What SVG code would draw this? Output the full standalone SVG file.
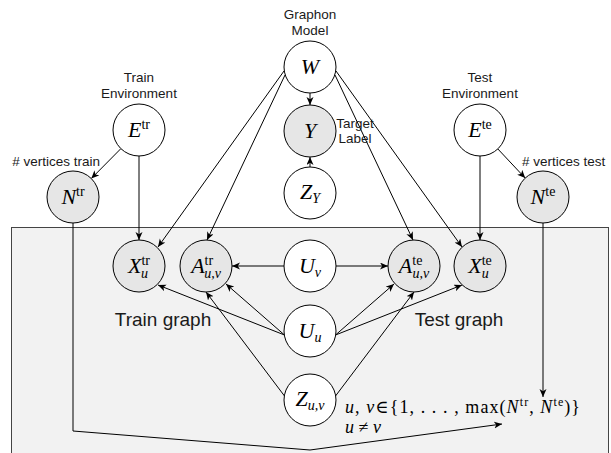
<svg xmlns="http://www.w3.org/2000/svg" width="611" height="453" viewBox="0 0 611 453">
<defs>
<marker id="a" markerWidth="9" markerHeight="8" refX="8" refY="3.5" orient="auto" markerUnits="userSpaceOnUse">
<path d="M0,0 L8,3.5 L0,7 L2.2,3.5 z" fill="#000"/>
</marker>
<style>
.n{stroke:#000;stroke-width:1;fill:#fff}
.g{fill:#e6e6e6}
.lbl{font-family:"Liberation Sans",Arial,sans-serif;font-size:13.5px;fill:#1a1a1a}
.big{font-family:"Liberation Sans",Arial,sans-serif;font-size:19px;fill:#1a1a1a}
.m{font-family:"Liberation Serif","DejaVu Serif",serif;font-size:22px;font-style:italic;fill:#000}
.r{font-style:normal;font-size:14px}
.s{font-size:14px}
.mt{font-family:"Liberation Serif","DejaVu Serif",serif;font-size:18px;fill:#000}
.i{font-style:italic}
.sp{font-size:12px}
.e{stroke:#000;stroke-width:1;fill:none;marker-end:url(#a)}
</style>
</defs>
<rect x="11.5" y="227.5" width="597" height="240" fill="#f2f2f2" stroke="#444" stroke-width="1"/>
<g id="connectors">
<path class="e" d="M310,93 L310,105"/>
<path class="e" d="M310,167 L310,157"/>
<path class="e" d="M284,71 L158,247"/>
<path class="e" d="M285,75 L207,240"/>
<path class="e" d="M335,75 L413,240"/>
<path class="e" d="M336,71 L462,247"/>
<path class="e" d="M121,148.5 L91.3,178.5"/>
<path class="e" d="M497.8,148.9 L525.2,178.1"/>
<path class="e" d="M139,156 L139,240"/>
<path class="e" d="M480,156 L480,240"/>
<path class="e" d="M284,266 L232,266"/>
<path class="e" d="M336,266 L388,266"/>
<path class="e" d="M284.5,335 L158,285"/>
<path class="e" d="M284.5,335 L226,284"/>
<path class="e" d="M335.5,335 L394,284"/>
<path class="e" d="M335.5,335 L462,285"/>
<path class="e" d="M284.5,396 L206,292"/>
<path class="e" d="M335.5,396 L414,292"/>
<path class="e" d="M73,223 L73,431 L310,450 L502,424"/>
<path class="e" d="M543,223 L543,397"/>
</g>
<g id="W">
<text class="lbl" x="310" y="19" text-anchor="middle">Graphon</text>
<text class="lbl" x="310" y="35" text-anchor="middle">Model</text>
<circle class="n" cx="310" cy="67" r="26"/>
<text class="m" x="310" y="74" text-anchor="middle">W</text>
</g>
<g id="Y">
<circle class="n g" cx="310" cy="131" r="26"/>
<text class="m" x="310" y="138" text-anchor="middle">Y</text>
<text class="lbl" x="355" y="128" text-anchor="middle">Target</text>
<text class="lbl" x="355" y="143" text-anchor="middle">Label</text>
</g>
<g id="ZY">
<circle class="n" cx="310" cy="193" r="26"/>
<text class="m" x="310" y="199" text-anchor="middle">Z<tspan class="s" dy="4">Y</tspan></text>
</g>
<g id="Etr">
<text class="lbl" x="139" y="82" text-anchor="middle">Train</text>
<text class="lbl" x="139" y="98" text-anchor="middle">Environment</text>
<circle class="n" cx="139" cy="130" r="26"/>
<text class="m" x="139" y="137" text-anchor="middle">E<tspan class="r" dy="-8">tr</tspan></text>
</g>
<g id="Ete">
<text class="lbl" x="480" y="82" text-anchor="middle">Test</text>
<text class="lbl" x="480" y="98" text-anchor="middle">Environment</text>
<circle class="n" cx="480" cy="130" r="26"/>
<text class="m" x="480" y="137" text-anchor="middle">E<tspan class="r" dy="-8">te</tspan></text>
</g>
<g id="Ntr">
<text class="lbl" x="100" y="166" text-anchor="end"># vertices train</text>
<circle class="n g" cx="73" cy="197" r="26"/>
<text class="m" x="73" y="204" text-anchor="middle">N<tspan class="r" dy="-8">tr</tspan></text>
</g>
<g id="Nte">
<text class="lbl" x="522" y="166"># vertices test</text>
<circle class="n g" cx="543" cy="197" r="26"/>
<text class="m" x="543" y="204" text-anchor="middle">N<tspan class="r" dy="-8">te</tspan></text>
</g>
<g id="Xtr">
<circle class="n g" cx="139" cy="266" r="26"/>
<text class="m" x="139" y="273" text-anchor="middle">X<tspan class="r" dy="-8">tr</tspan><tspan class="s" dx="-9" dy="13">u</tspan></text>
</g>
<g id="Atr">
<circle class="n g" cx="206" cy="266" r="26"/>
<text class="m" x="206" y="273" text-anchor="middle">A<tspan class="r" dy="-8">tr</tspan><tspan class="s" dx="-9" dy="13">u,v</tspan></text>
</g>
<g id="Uv">
<circle class="n" cx="310" cy="266" r="26"/>
<text class="m" x="310" y="273" text-anchor="middle">U<tspan class="s" dy="4">v</tspan></text>
</g>
<g id="Ate">
<circle class="n g" cx="414" cy="266" r="26"/>
<text class="m" x="414" y="273" text-anchor="middle">A<tspan class="r" dy="-8">te</tspan><tspan class="s" dx="-10" dy="13">u,v</tspan></text>
</g>
<g id="Xte">
<circle class="n g" cx="480" cy="266" r="26"/>
<text class="m" x="480" y="273" text-anchor="middle">X<tspan class="r" dy="-8">te</tspan><tspan class="s" dx="-10" dy="13">u</tspan></text>
</g>
<g id="Uu">
<circle class="n" cx="310" cy="331" r="26"/>
<text class="m" x="310" y="338" text-anchor="middle">U<tspan class="s" dy="4">u</tspan></text>
</g>
<g id="Zuv">
<circle class="n" cx="310" cy="400" r="26"/>
<text class="m" x="310" y="406" text-anchor="middle">Z<tspan class="s" dy="4">u,v</tspan></text>
</g>
<g id="labels">
<text class="big" x="163" y="326" text-anchor="middle">Train graph</text>
<text class="big" x="459" y="326" text-anchor="middle">Test graph</text>
<text class="mt" x="345" y="413" textLength="235" lengthAdjust="spacing"><tspan class="i">u</tspan>, <tspan class="i">v</tspan>∈{1, . . . , max(<tspan class="i">N</tspan><tspan class="sp" dy="-7">tr</tspan><tspan dy="7">, </tspan><tspan class="i">N</tspan><tspan class="sp" dy="-7">te</tspan><tspan dy="7">)}</tspan></text>
<text class="mt" x="345" y="433"><tspan class="i">u</tspan> ≠ <tspan class="i">v</tspan></text>
</g>
</svg>
